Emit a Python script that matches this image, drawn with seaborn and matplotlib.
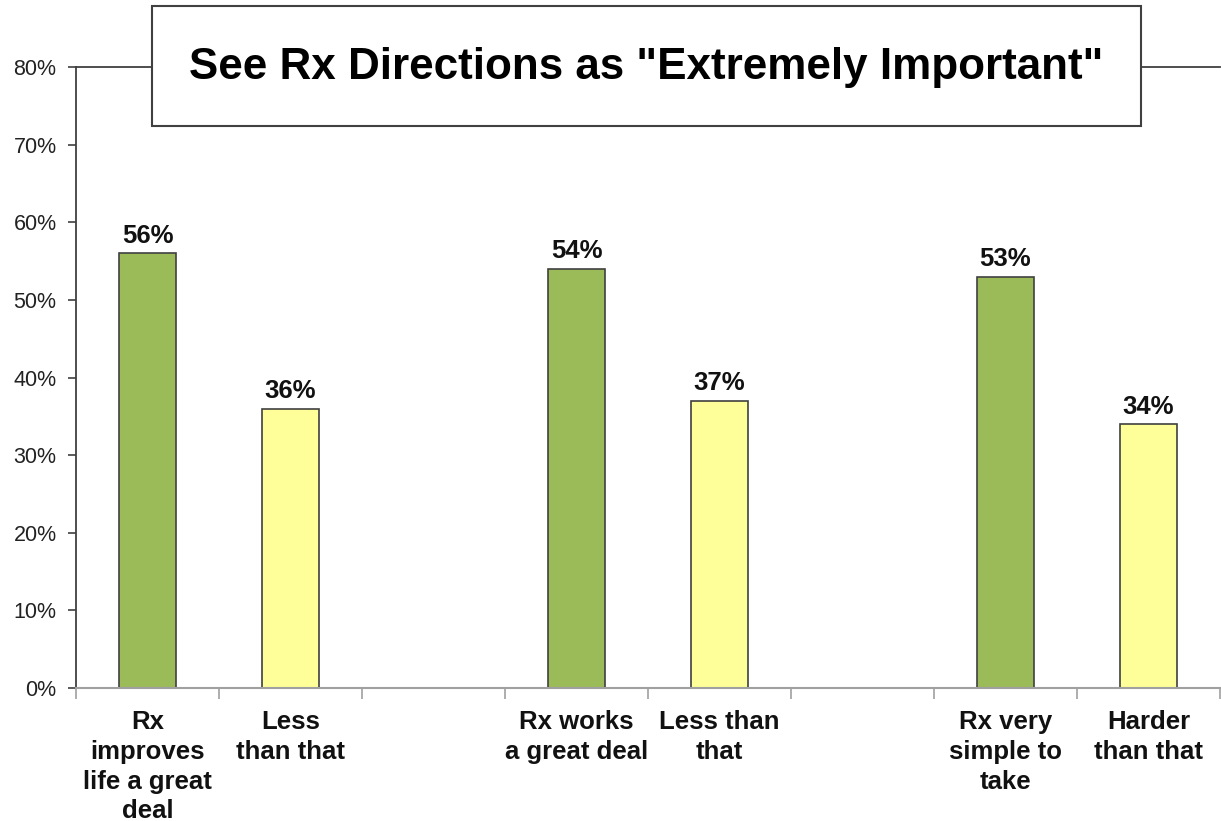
import matplotlib
matplotlib.use("Agg")
import matplotlib.pyplot as plt
import seaborn as sns
import pandas as pd
from matplotlib.patches import Rectangle
from matplotlib.ticker import FixedLocator, PercentFormatter

# ---- data ----
categories = ["Rx\nimproves\nlife a great\ndeal", "Less\nthan that",
              "Rx works\na great deal", "Less than\nthat",
              "Rx very\nsimple to\ntake", "Harder\nthan that"]
values = [0.56, 0.36, 0.54, 0.37, 0.53, 0.34]
slot_order = [categories[0], categories[1], " ",
              categories[2], categories[3], "  ",
              categories[4], categories[5]]
bar_colors = ["#9BBB59", "#FFFF99", "#9BBB59", "#FFFF99", "#9BBB59", "#FFFF99"]
title = 'See Rx Directions as "Extremely Important"'

sns.set_theme(style="white")
plt.rcParams["font.family"] = ["Liberation Sans", "DejaVu Sans"]

W, H = 1221, 821
fig = plt.figure(figsize=(W / 100, H / 100), dpi=100)
ax = fig.add_axes([76 / W, 1 - 688 / H, (1220 - 76) / W, (688 - 67) / H])

df = pd.DataFrame({"cat": categories, "val": values})
palette = dict(zip(categories, bar_colors))
palette[" "] = "white"
palette["  "] = "white"
sns.barplot(data=df, x="cat", y="val", hue="cat", order=slot_order,
            hue_order=slot_order, palette=palette, dodge=False, width=0.4,
            saturation=1, edgecolor="#404040", linewidth=1.2, legend=False,
            ax=ax)

for c in ax.containers:
    labels = [f"{v * 100:.0f}%" if v == v else "" for v in c.datavalues]
    ax.bar_label(c, labels=labels, padding=4, fontsize=18.5, fontweight="bold",
                 color="#111111")

ax.set_xlim(-0.5, 7.5)
ax.set_ylim(0, 0.8)
ax.yaxis.set_major_locator(FixedLocator([i / 10 for i in range(9)]))
ax.yaxis.set_major_formatter(PercentFormatter(1.0, decimals=0))
ax.set_xlabel("")
ax.set_ylabel("")

# x ticks: labels centered in slots, tick marks at slot boundaries
ax.set_xticks(range(len(slot_order)))
ax.set_xticklabels(slot_order, fontsize=18.5, fontweight="bold", color="#111111",
                   linespacing=1.3)
ax.tick_params(axis="x", which="major", length=0, pad=16)
ax.set_xticks([i - 0.5 for i in range(len(slot_order) + 1)], minor=True)
ax.tick_params(axis="x", which="minor", bottom=True, length=8, width=1.2,
               color="#a0a0a0", direction="out")
ax.tick_params(axis="y", which="major", left=True, length=6, width=1.2,
               color="#404040", labelsize=15.5, labelcolor="#222222", pad=8)

ax.spines["right"].set_visible(False)
ax.spines["left"].set_color("#404040")
ax.spines["left"].set_linewidth(1.3)
ax.spines["top"].set_color("#404040")
ax.spines["top"].set_linewidth(1.3)
ax.spines["bottom"].set_color("#a0a0a0")
ax.spines["bottom"].set_linewidth(1.5)
ax.grid(False)

# title box
rect = Rectangle((152 / W, 1 - 126 / H), (1141 - 152) / W, 120 / H,
                 transform=fig.transFigure, facecolor="white",
                 edgecolor="#404040", linewidth=1.5, zorder=5)
fig.add_artist(rect)
fig.text(646 / W, 1 - 79 / H, title, ha="center", va="baseline",
         fontsize=31.7, fontweight="bold", color="black", zorder=6)

fig.savefig("out.png", dpi=100)
